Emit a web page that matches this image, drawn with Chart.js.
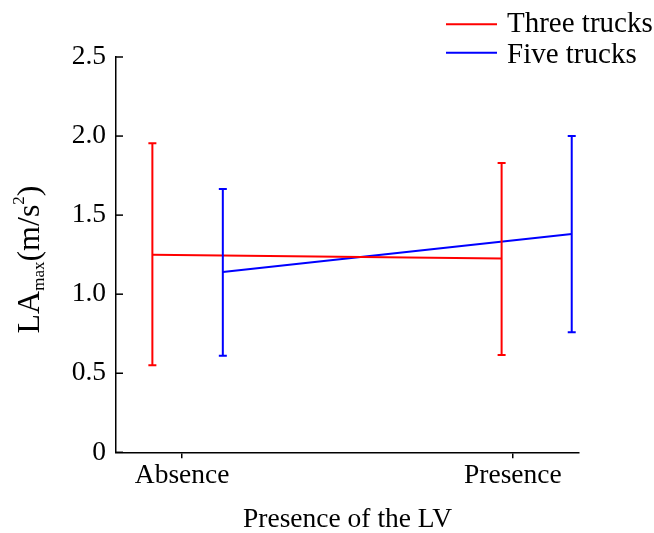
<!DOCTYPE html>
<html><head><meta charset="utf-8">
<script src="https://cdn.jsdelivr.net/npm/chart.js@4"></script>
<style>html,body{margin:0;padding:0;background:#fff}#wrap{width:654px;height:533px;position:relative}</style>
</head><body><div id="wrap"><canvas id="c"></canvas></div>
<script>
const categories = ['Absence', 'Presence'];
const seriesNames = ['Three trucks', 'Five trucks'];
const seriesColors = ['#ff0000', '#0000ff'];
// x positions (category index with dodge)
const threeX = [-0.09, 0.966];
const threeMean = [1.25, 1.225];
const threeUpper = [1.955, 1.83];
const threeLower = [0.55, 0.615];
const fiveX = [0.123, 1.178];
const fiveMean = [1.14, 1.38];
const fiveUpper = [1.665, 2.0];
const fiveLower = [0.61, 0.76];
const yTickValues = [0, 0.5, 1, 1.5, 2, 2.5];
const yTickLabels = ['0', '0.5', '1.0', '1.5', '2.0', '2.5'];
const xTitle = 'Presence of the LV';

const FAM = '"Liberation Serif", "Times New Roman", serif';
const tickFont = { family: FAM, size: 27.5 };

const errSets = [
  { x: threeX, lo: threeLower, hi: threeUpper, color: seriesColors[0] },
  { x: fiveX, lo: fiveLower, hi: fiveUpper, color: seriesColors[1] }
];

const errorBars = {
  id: 'errorBars',
  afterDatasetsDraw(chart) {
    const { ctx, scales: { x, y } } = chart;
    ctx.save();
    ctx.lineWidth = 2;
    errSets.forEach(s => {
      ctx.strokeStyle = s.color;
      s.x.forEach((xv, i) => {
        const px = x.getPixelForValue(xv);
        const top = y.getPixelForValue(s.hi[i]);
        const bot = y.getPixelForValue(s.lo[i]);
        ctx.beginPath();
        ctx.moveTo(px, top); ctx.lineTo(px, bot);
        ctx.moveTo(px - 4, top); ctx.lineTo(px + 4, top);
        ctx.moveTo(px - 4, bot); ctx.lineTo(px + 4, bot);
        ctx.stroke();
      });
    });
    ctx.restore();
  }
};

const extras = {
  id: 'extras',
  afterDraw(chart) {
    const { ctx, scales: { y }, chartArea } = chart;
    ctx.save();
    // inward y ticks
    ctx.strokeStyle = '#000';
    ctx.lineWidth = 1.5;
    yTickValues.forEach(v => {
      const py = y.getPixelForValue(v);
      ctx.beginPath();
      ctx.moveTo(chartArea.left, py); ctx.lineTo(chartArea.left + 7, py);
      ctx.stroke();
    });
    // y title with subscript/superscript
    const big = 'normal 32px ' + FAM, small = 'normal 17px ' + FAM;
    const parts = [
      { t: 'LA', f: big, dy: 0 },
      { t: 'max', f: small, dy: 5 },
      { t: '(m/s', f: big, dy: 0 },
      { t: '2', f: small, dy: -15 },
      { t: ')', f: big, dy: 0 }
    ];
    let total = 0;
    parts.forEach(p => { ctx.font = p.f; p.w = ctx.measureText(p.t).width; total += p.w; });
    ctx.translate(39, 259.5);
    ctx.rotate(-Math.PI / 2);
    ctx.fillStyle = '#000';
    ctx.textBaseline = 'alphabetic';
    ctx.textAlign = 'left';
    let cx = -total / 2;
    parts.forEach(p => { ctx.font = p.f; ctx.fillText(p.t, cx, p.dy); cx += p.w; });
    ctx.setTransform(1, 0, 0, 1, 0, 0);
    // legend
    ctx.font = 'normal 29px ' + FAM;
    const rows = [{ ly: 24.3, by: 32 }, { ly: 52.7, by: 63 }];
    seriesNames.forEach((n, i) => {
      ctx.strokeStyle = seriesColors[i];
      ctx.lineWidth = 2;
      ctx.beginPath();
      ctx.moveTo(446, rows[i].ly); ctx.lineTo(497, rows[i].ly);
      ctx.stroke();
      ctx.fillStyle = '#000';
      ctx.fillText(n, 507, rows[i].by);
    });
    ctx.restore();
  }
};

new Chart(document.getElementById('c'), {
  type: 'line',
  data: {
    datasets: [
      { label: seriesNames[0], data: threeX.map((x, i) => ({ x, y: threeMean[i] })), borderColor: seriesColors[0], borderWidth: 2, pointRadius: 0, fill: false, tension: 0 },
      { label: seriesNames[1], data: fiveX.map((x, i) => ({ x, y: fiveMean[i] })), borderColor: seriesColors[1], borderWidth: 2, pointRadius: 0, fill: false, tension: 0 }
    ]
  },
  options: {
    responsive: true,
    maintainAspectRatio: false,
    animation: false,
    devicePixelRatio: 1,
    layout: { padding: { top: 57, right: 75, left: 0, bottom: 0 } },
    plugins: { legend: { display: false }, tooltip: { enabled: false } },
    scales: {
      x: {
        type: 'linear', min: -0.2, max: 1.2,
        afterBuildTicks: s => { s.ticks = categories.map((c, i) => ({ value: i })); },
        ticks: { callback: v => categories[v] ?? '', font: tickFont, color: '#000', padding: 1, maxRotation: 0, autoSkip: false },
        grid: { drawOnChartArea: false, drawTicks: true, tickLength: 6, color: '#000', lineWidth: 1.5 },
        border: { display: true, color: '#000', width: 1.5 },
        title: { display: true, text: xTitle, font: tickFont, color: '#000', padding: { top: 0, bottom: -3 } },
        afterFit: s => { s.height = 80.7; }
      },
      y: {
        type: 'linear', min: 0, max: 2.5,
        afterBuildTicks: s => { s.ticks = yTickValues.map(v => ({ value: v })); },
        ticks: { callback: (v, i) => yTickLabels[i], font: tickFont, color: '#000', padding: 10 },
        grid: { drawOnChartArea: false, drawTicks: false },
        border: { display: true, color: '#000', width: 1.5 },
        afterFit: s => { s.width = 116; }
      }
    }
  },
  plugins: [errorBars, extras]
});
</script>
</body></html>
